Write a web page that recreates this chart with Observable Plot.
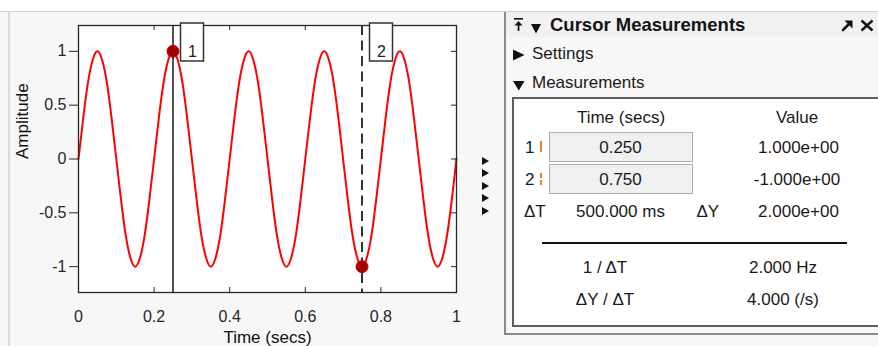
<!DOCTYPE html>
<html>
<head>
<meta charset="utf-8">
<script src="https://cdn.jsdelivr.net/npm/d3@7"></script>
<script src="https://cdn.jsdelivr.net/npm/@observablehq/plot@0.6"></script>
<style>
  html, body { margin: 0; padding: 0; background: #fff; }
  #wrap { position: relative; width: 878px; height: 346px; overflow: hidden; background: #fff;
          font-family: "Liberation Sans", Arial, sans-serif; color: #1a1a1a; }
  .t { position: absolute; white-space: nowrap; line-height: 1; font-size: 17px; }
  .c { transform: translate(-50%, -50%); }
  .l { transform: translate(0, -50%); }
</style>
</head>
<body>
<div id="wrap"></div>
<script>
// ---------- data ----------
const times = [
  0, 0.0125, 0.025, 0.0375, 0.05, 0.0625, 0.075, 0.0875, 0.1, 0.1125, 0.125, 0.1375, 0.15, 0.1625, 0.175, 0.1875,
  0.2, 0.2125, 0.225, 0.2375, 0.25, 0.2625, 0.275, 0.2875, 0.3, 0.3125, 0.325, 0.3375, 0.35, 0.3625, 0.375, 0.3875,
  0.4, 0.4125, 0.425, 0.4375, 0.45, 0.4625, 0.475, 0.4875, 0.5, 0.5125, 0.525, 0.5375, 0.55, 0.5625, 0.575, 0.5875,
  0.6, 0.6125, 0.625, 0.6375, 0.65, 0.6625, 0.675, 0.6875, 0.7, 0.7125, 0.725, 0.7375, 0.75, 0.7625, 0.775, 0.7875,
  0.8, 0.8125, 0.825, 0.8375, 0.85, 0.8625, 0.875, 0.8875, 0.9, 0.9125, 0.925, 0.9375, 0.95, 0.9625, 0.975, 0.9875, 1
];
const amplitude = [
  0, 0.38, 0.71, 0.92, 1, 0.92, 0.71, 0.38, 0, -0.38, -0.71, -0.92, -1, -0.92, -0.71, -0.38,
  0, 0.38, 0.71, 0.92, 1, 0.92, 0.71, 0.38, 0, -0.38, -0.71, -0.92, -1, -0.92, -0.71, -0.38,
  0, 0.38, 0.71, 0.92, 1, 0.92, 0.71, 0.38, 0, -0.38, -0.71, -0.92, -1, -0.92, -0.71, -0.38,
  0, 0.38, 0.71, 0.92, 1, 0.92, 0.71, 0.38, 0, -0.38, -0.71, -0.92, -1, -0.92, -0.71, -0.38,
  0, 0.38, 0.71, 0.92, 1, 0.92, 0.71, 0.38, 0, -0.38, -0.71, -0.92, -1, -0.92, -0.71, -0.38,
  0
];
const xTicks = [0, 0.2, 0.4, 0.6, 0.8, 1];
const yTicks = [-1, -0.5, 0, 0.5, 1];
const cursorIds = ["1", "2"];
const cursorTimes = [0.25, 0.75];
const cursorValues = [1, -1];
const cursorDashed = [false, true];

// ---------- layout helpers ----------
const wrap = document.getElementById("wrap");
function el(tag, style, html) {
  const e = document.createElement(tag);
  e.style.cssText = style;
  if (html != null) e.innerHTML = html;
  wrap.appendChild(e);
  return e;
}
function txt(s, x, y, cls = "c", extra = "") {
  const e = el("div", `left:${x}px;top:${y}px;${extra}`, s);
  e.className = "t " + cls;
  return e;
}

// background & borders
el("div", "position:absolute;left:0;top:11px;width:878px;height:335px;background:#f7f7f7;border-top:1px solid #d4d4d4;box-sizing:border-box");
el("div", "position:absolute;left:8px;top:12px;width:1.5px;height:334px;background:#dadada");

// ---------- chart ----------
const series = times.map((t, i) => ({t, a: amplitude[i]}));
const cursors = cursorIds.map((id, i) => ({id, t: cursorTimes[i], v: cursorValues[i], dashed: cursorDashed[i]}));

const W = 470, H = 346, mL = 78, mR = 14, mT = 25, mB = 54;
const fw = W - mL - mR, fh = H - mT - mB;
const ink = "#262626";

const chart = Plot.plot({
  width: W, height: H,
  marginLeft: mL, marginRight: mR, marginTop: mT, marginBottom: mB,
  style: {background: "transparent", color: ink, fontFamily: "'Liberation Sans', Arial, sans-serif", fontSize: "16px", overflow: "visible"},
  x: {domain: [0, 1]},
  y: {domain: [-1.24, 1.24]},
  marks: [
    Plot.frame({fill: "white", stroke: "none"}),
    Plot.line(series, {x: "t", y: "a", stroke: "#ff0000", strokeWidth: 2, curve: "natural"}),
    Plot.tickX(xTicks, {x: d => d, insetTop: fh - 5, stroke: ink}),
    Plot.tickX(xTicks, {x: d => d, insetBottom: fh - 5, stroke: ink}),
    Plot.tickY(yTicks, {y: d => d, insetLeft: fw - 5, stroke: ink}),
    Plot.axisY(yTicks, {anchor: "left", tickSize: 9, tickPadding: 3, label: null, tickFormat: d => String(d), fontSize: 16}),
    Plot.axisX(xTicks, {anchor: "bottom", tickSize: 0, tickPadding: 18, label: null, tickFormat: d => String(d), fontSize: 16}),
    Plot.text(["Time (secs)"], {text: d => d, frameAnchor: "bottom", dy: 50, fontSize: 17, fill: "#111"}),
    Plot.text(["Amplitude"], {text: d => d, frameAnchor: "left", dx: -56, rotate: -90, fontSize: 17, fill: "#111"}),
    Plot.frame({stroke: ink, strokeWidth: 1.3}),
    Plot.ruleX(cursors.filter(d => !d.dashed), {x: "t", stroke: ink, strokeWidth: 1.6}),
    Plot.ruleX(cursors.filter(d => d.dashed), {x: "t", stroke: "#333", strokeWidth: 2, strokeDasharray: "10,5.5"}),
    Plot.rect(cursors, {x1: "t", x2: "t", insetLeft: 8, insetRight: -31, insetTop: -2, insetBottom: fh - 36, fill: "white", stroke: "#333", strokeWidth: 1.5}),
    Plot.text(cursors, {x: "t", text: "id", frameAnchor: "top", dx: 19.5, dy: 20, fontSize: 16, fill: "#222"}),
    Plot.dot(cursors, {x: "t", y: "v", r: 6, fill: "#a30000", stroke: "#c80000", strokeWidth: 1})
  ]
});
const holder = el("div", "position:absolute;left:0;top:0");
holder.appendChild(chart);

// small collapse arrows between chart and panel
[160.7, 173.3, 185.5, 198.3, 211].forEach(y => {
  el("div", `position:absolute;left:482px;top:${y - 4}px;width:0;height:0;border-top:4px solid transparent;border-bottom:4px solid transparent;border-left:7.5px solid #111`);
});

// ---------- measurement panel ----------
el("div", "position:absolute;left:505px;top:12px;width:373px;height:25px;background:#f1f1f1");
el("div", "position:absolute;left:503.5px;top:12px;width:2px;height:323px;background:#8a8a8a");
el("div", "position:absolute;left:503.5px;top:333px;width:380px;height:1.5px;background:#8a8a8a");
el("div", "position:absolute;left:512px;top:97px;width:380px;height:230px;background:#fff;border:2px solid #5c5c5c;box-sizing:border-box");

// header icons
el("div", "position:absolute;left:513px;top:17px",
  `<svg width="12" height="16"><rect x="1" y="1" width="9" height="1.6" fill="#111"/><path d="M5.5 4 L9.5 8.5 L1.5 8.5 Z" fill="#111"/><rect x="4.7" y="8" width="1.7" height="6" fill="#111"/></svg>`);
el("div", "position:absolute;left:531px;top:19.5px",
  `<svg width="11" height="11"><path d="M0 1 L10 1 L5 10.5 Z" fill="#111"/></svg>`);
txt("Cursor Measurements", 550, 24.8, "l", "font-weight:bold;font-size:18.5px;color:#141414");
el("div", "position:absolute;left:841px;top:18px",
  `<svg width="13" height="13"><path d="M3.5 1.5 L11.5 1.5 L11.5 9.5 Z" fill="#111"/><path d="M2 11 L8.5 4.5" stroke="#111" stroke-width="2.6" stroke-linecap="round"/></svg>`);
el("div", "position:absolute;left:860px;top:18px",
  `<svg width="14" height="13"><path d="M1.5 1.5 L12.5 11.5 M12.5 1.5 L1.5 11.5" stroke="#111" stroke-width="2.4"/></svg>`);

// Settings / Measurements
el("div", "position:absolute;left:513px;top:46.5px",
  `<svg width="12" height="12"><path d="M0 0.5 L11.5 6 L0 11.5 Z" fill="#111"/></svg>`);
txt("Settings", 532, 52.5, "l");
el("div", "position:absolute;left:513px;top:77px",
  `<svg width="12" height="11"><path d="M0 1 L11.5 1 L5.75 10.5 Z" fill="#111"/></svg>`);
txt("Measurements", 532, 82, "l");

// table
const fmtE = v => {
  const s = Math.abs(v).toExponential(3);
  const [m, e] = s.split("e");
  const sign = e[0];
  const digits = e.slice(1).padStart(2, "0");
  return (v < 0 ? "-" : "") + m + "e" + sign + digits;
};
const dT = Math.abs(cursorTimes[1] - cursorTimes[0]);
const dY = Math.abs(cursorValues[0] - cursorValues[1]);

txt("Time (secs)", 621, 116.5);
txt("Value", 797, 116.5);

const rowY = [147, 179];
cursors.forEach((c, i) => {
  const y = rowY[i];
  txt(c.id, 525, y, "l");
  if (!c.dashed) {
    el("div", `position:absolute;left:539.5px;top:${y - 6}px;width:2.7px;height:11px;background:#e8832a`);
  } else {
    el("div", `position:absolute;left:539.5px;top:${y - 6}px;width:2.7px;height:4.5px;background:#e8832a`);
    el("div", `position:absolute;left:539.5px;top:${y + 1}px;width:2.7px;height:4.5px;background:#e8832a`);
  }
  el("div", `position:absolute;left:549px;top:${y - 15.5}px;width:143.5px;height:30px;background:#f0f0f0;border:1.5px solid #adadad;box-sizing:border-box`);
  txt(c.t.toFixed(3), 620.5, y);
  txt(fmtE(c.v), c.v < 0 ? 797 : 798.5, y);
});

txt("ΔT", 524, 210.5, "l");
txt((dT * 1000).toFixed(3) + " ms", 620.5, 210.5);
txt("ΔY", 696.5, 210.5, "l");
txt(fmtE(dY), 798.5, 210.5);

el("div", "position:absolute;left:542px;top:242px;width:305px;height:2px;background:#111");

txt("1 / ΔT", 605, 267);
txt((1 / dT).toFixed(3) + " Hz", 783, 267);
txt("ΔY / ΔT", 605, 299);
txt((dY / dT).toFixed(3) + " (/s)", 783, 299);
</script>
</body>
</html>
